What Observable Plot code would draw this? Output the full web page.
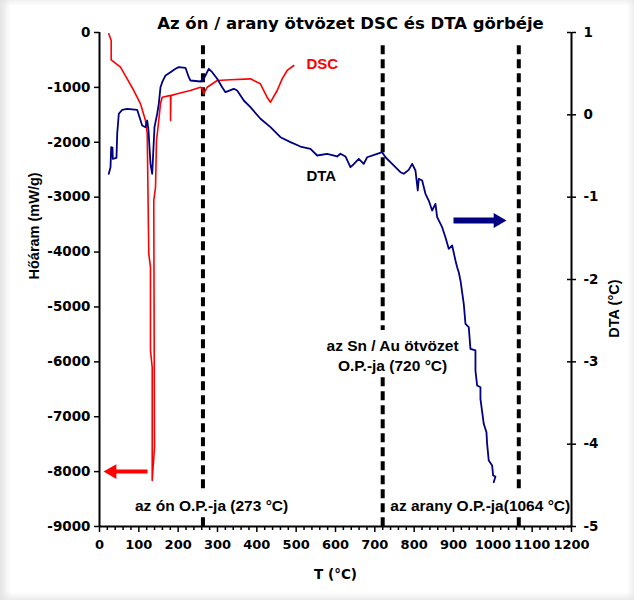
<!DOCTYPE html>
<html><head><meta charset="utf-8">
<script src="https://cdn.jsdelivr.net/npm/d3@7"></script>
<script src="https://cdn.jsdelivr.net/npm/@observablehq/plot@0.6"></script>
<style>
html,body{margin:0;padding:0;background:#e2e2e2;}
#wrap{position:relative;width:634px;height:600px;overflow:hidden;}
#panel{position:absolute;left:10px;top:5px;width:618px;height:588px;background:#fff;box-shadow:0 0 8px 5px #fff;}
#chart{position:absolute;left:0;top:0;}
</style></head><body>
<div id="wrap"><div id="panel"></div><div id="chart"></div></div>
<script>
// ---- data ----
const title = "Az ón / arany ötvözet DSC és DTA görbéje";
const dscT = [23.6, 29.7, 29.7, 53.4, 70.4, 87.2, 104.2, 116.9, 121.3, 125.3, 129.6, 129.6, 134, 134, 139.8, 138, 142.4, 144.9, 150.7, 155, 159.4, 178, 180.6, 180.6, 181.5, 197.5, 231, 256.7, 262, 265, 273.8, 299.2, 333, 383.8, 409, 426, 434.7, 451.7, 464.4, 477, 494];
const dscV = [-24, -146, -497, -632, -844, -1057, -1299, -1603, -1840, -4032, -4276, -5794, -6098, -8162, -7556, -3061, -2819, -1968, -1603, -1299, -1179, -1150, -1148, -1603, -1150, -1117, -1057, -997, -1030, -1117, -997, -875, -862, -844, -935, -1179, -1270, -1057, -844, -692, -601];
const dtaT = [23.6, 28.0, 29.7, 33.0, 33.8, 43.2, 45.0, 49.1, 57.7, 70.4, 95.8, 108.5, 116.9, 121.3, 124.6, 129.6, 134.0, 136.5, 139.8, 146.7, 150.7, 155.1, 159.4, 167.8, 180.5, 193.2, 201.6, 218.6, 227.0, 231.3, 256.7, 265.1, 277.8, 286.5, 299.2, 311.9, 320.3, 341.4, 350.0, 366.8, 383.8, 409.3, 434.7, 460.1, 485.5, 510.9, 536.4, 553.4, 578.8, 604.2, 612.6, 625.3, 638.0, 645.7, 659.1, 671.8, 680.5, 705.9, 718.6, 727.0, 744.0, 765.1, 773.5, 786.2, 794.9, 803.3, 809.1, 811.7, 820.3, 828.7, 837.1, 845.7, 854.1, 858.4, 871.1, 879.5, 887.9, 896.6, 905.0, 909.3, 913.3, 917.7, 926.1, 930.4, 938.8, 943.1, 955.8, 955.8, 960.1, 968.5, 968.5, 976.9, 983.8, 985.5, 989.6, 998.2, 1000.8, 1006.6, 1002.3];
const dtaV = [-0.716, -0.636, -0.393, -0.397, -0.534, -0.522, -0.230, 0.013, 0.061, 0.073, 0.061, -0.130, -0.150, -0.069, -0.190, -0.595, -0.716, -0.473, -0.150, 0.013, 0.134, 0.336, 0.396, 0.478, 0.518, 0.559, 0.579, 0.571, 0.457, 0.417, 0.405, 0.438, 0.559, 0.518, 0.438, 0.336, 0.275, 0.316, 0.295, 0.174, 0.093, -0.048, -0.150, -0.272, -0.332, -0.385, -0.413, -0.494, -0.474, -0.506, -0.473, -0.506, -0.636, -0.603, -0.534, -0.595, -0.515, -0.473, -0.454, -0.515, -0.595, -0.697, -0.716, -0.668, -0.595, -0.676, -0.919, -0.777, -0.798, -0.959, -1.041, -1.162, -1.081, -1.243, -1.365, -1.486, -1.627, -1.587, -1.769, -1.851, -1.911, -2.012, -2.295, -2.538, -2.579, -2.842, -2.862, -3.105, -3.288, -3.308, -3.449, -3.753, -3.855, -3.996, -4.199, -4.259, -4.381, -4.393, -4.462];
// melting-point markers (dashed lines, split where labels sit)
const dashT  = [263, 263, 720, 720, 1066, 1066];
const dashY1 = [-240, -8840, -240, -6290, -240, -8840];
const dashY2 = [-8350, -9000, -5430, -9000, -8350, -9000];
const xMajor = d3.range(0, 1201, 100);
const xMinor = d3.range(0, 1201, 20).filter(t => t % 100 !== 0);
const leftTicks = d3.range(-9000, 1, 1000);
const rightTicks = d3.range(-5, 2, 1);
const seriesLabels = [
  {t: 526, v: -575, text: "DSC", color: "#ff0000"},
  {t: 526, v: -2615, text: "DTA", color: "#000000"}
];
const noteLabels = [
  {t: 745, v: -5870, text: "az Sn / Au ötvözet\nO.P.-ja (720 °C)"},
  {t: 285, v: -8600, text: "az ón O.P.-ja (273 °C)"},
  {t: 968, v: -8600, text: "az arany O.P.-ja(1064 °C)"}
];
const arrows = [
  {t1: 122, t2: 36, tip: 32, v: -8000, color: "#ff0000", w: 4, dir: -90},
  {t1: 900, t2: 1008, tip: 1013, v: -3425, color: "#000080", w: 6, dir: 90}
];
// ---- build ----
const toLeft = d => (d - 1) * 1500; // DTA (°C) -> left-axis units
const dsc = dscT.map((t, i) => ({t, v: dscV[i]}));
const dta = dtaT.map((t, i) => ({t, v: toLeft(dtaV[i])}));
const dashes = dashT.map((t, i) => ({t, y1: dashY1[i], y2: dashY2[i]}));
const F = "'Liberation Sans', Arial, sans-serif";
const FW = "'DejaVu Sans', Verdana, sans-serif";

const chart = Plot.plot({
  width: 634, height: 600,
  marginLeft: 99, marginRight: 63, marginTop: 32, marginBottom: 74,
  x: {domain: [0, 1200]},
  y: {domain: [-9000, 0]},
  style: {background: "transparent", fontFamily: F, fontSize: "13.5px", fontWeight: "bold", color: "#000"},
  marks: [
    Plot.ruleX(dashes, {x: "t", y1: "y1", y2: "y2", stroke: "#000", strokeWidth: 4, strokeDasharray: "9,5"}),
    Plot.line(dsc, {x: "t", y: "v", stroke: "#ff0000", strokeWidth: 1.6}),
    Plot.line(dta, {x: "t", y: "v", stroke: "#000080", strokeWidth: 1.8}),
    Plot.ruleX([0], {stroke: "#000", strokeWidth: 2}),
    Plot.ruleX([1200], {stroke: "#000", strokeWidth: 2}),
    Plot.ruleY([-9000], {stroke: "#000", strokeWidth: 2}),
    Plot.axisX({ticks: xMajor, tickSize: 6, tickPadding: 7, tickFormat: d => String(d), label: null, strokeWidth: 1.5, fontFamily: FW, fontSize: 13, fontWeight: "bold"}),
    Plot.axisX({ticks: xMinor, tickSize: 4, tickFormat: () => "", label: null, strokeWidth: 1.5}),
    Plot.axisY({anchor: "left", ticks: leftTicks, tickSize: 5, tickPadding: 4, tickFormat: d => String(d), label: null, strokeWidth: 1.5, fontFamily: FW, fontSize: 13.5, fontWeight: "bold"}),
    Plot.axisY({anchor: "right", ticks: rightTicks.map(toLeft), tickSize: 4, tickPadding: 8, tickFormat: v => String(Math.round(v / 1500 + 1)), label: null, strokeWidth: 1.5, fontFamily: FW, fontSize: 13.5, fontWeight: "bold"}),
    Plot.tickY(rightTicks.map(toLeft), {y: d => d, insetLeft: 468, stroke: "#000", strokeWidth: 1.5}),
    Plot.link(arrows, {x1: "t1", x2: "t2", y1: "v", y2: "v", stroke: "color", strokeWidth: "w"}),
    Plot.dot(arrows, {x: "tip", y: "v", symbol: "triangle", r: 5.5, fill: "color", stroke: null, rotate: "dir"}),
    Plot.text(seriesLabels, {x: "t", y: "v", text: "text", fill: "color", textAnchor: "start", fontSize: 15, fontWeight: "bold"}),
    Plot.text(noteLabels, {x: "t", y: "v", text: "text", fill: "#000", textAnchor: "middle", fontSize: 15.5, fontWeight: "bold", lineHeight: 1.25}),
    Plot.text([title], {frameAnchor: "top", dx: 15, dy: -15, fontFamily: FW, fontSize: 16.5, fontWeight: "bold"}),
    Plot.text(["T (°C)"], {frameAnchor: "bottom", dy: 52, fontFamily: FW, fontSize: 13.5, fontWeight: "bold"}),
    Plot.text(["Hőáram (mW/g)"], {frameAnchor: "left", dx: -65, rotate: -90, fontSize: 14.5, fontWeight: "bold"}),
    Plot.text(["DTA (°C)"], {frameAnchor: "right", dx: 43, rotate: -90, fontSize: 14.5, fontWeight: "bold"})
  ]
});
document.getElementById("chart").appendChild(chart);
</script></body></html>
